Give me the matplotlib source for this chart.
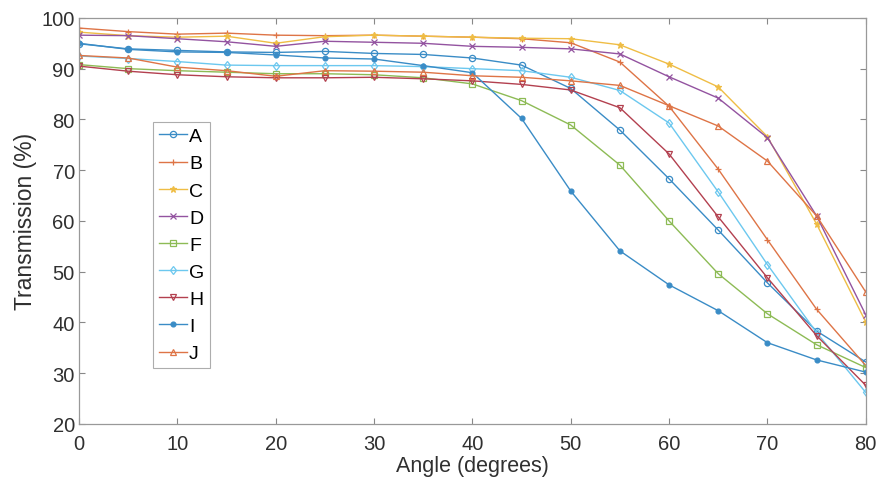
import matplotlib
matplotlib.use('Agg')
from matplotlib import pyplot as plt
import numpy as np

plt.rcParams['font.family'] = ['Liberation Sans', 'DejaVu Sans']

# angle of incidence (degrees)
angles = [0, 5, 10, 15, 20, 25, 30, 35, 40, 45, 50, 55, 60, 65, 70, 75, 80]

# transmission (%)
A = [94.9, 93.9, 93.6, 93.3, 93.2, 93.4, 93.0, 92.8, 92.1, 90.7, 86.1, 77.9, 68.3, 58.2, 47.8, 38.3, 32.2]
B = [98.0, 97.3, 96.8, 97.0, 96.6, 96.5, 96.6, 96.4, 96.2, 95.9, 95.1, 91.3, 82.6, 70.2, 56.3, 42.6, 31.5]
C = [97.2, 96.5, 96.2, 96.4, 95.0, 96.3, 96.6, 96.4, 96.2, 96.0, 95.9, 94.7, 90.9, 86.4, 76.6, 59.4, 40.1]
D = [96.6, 96.5, 95.9, 95.3, 94.4, 95.4, 95.2, 95.0, 94.4, 94.2, 93.9, 92.9, 88.4, 84.2, 76.4, 61.0, 41.5]
F = [90.8, 90.0, 89.6, 89.3, 89.0, 89.0, 88.8, 88.2, 87.0, 83.7, 78.9, 71.0, 60.0, 49.6, 41.7, 35.6, 31.1]
G = [92.5, 92.0, 91.4, 90.7, 90.6, 90.6, 90.6, 90.4, 90.0, 89.6, 88.3, 85.7, 79.3, 65.7, 51.4, 38.0, 26.2]
H = [90.5, 89.5, 88.8, 88.4, 88.2, 88.2, 88.3, 88.0, 87.6, 86.9, 85.8, 82.3, 73.2, 60.8, 48.8, 37.4, 27.6]
I = [95.0, 93.8, 93.3, 93.2, 92.7, 92.1, 91.9, 90.6, 89.2, 80.2, 65.9, 54.1, 47.4, 42.3, 36.0, 32.6, 30.2]
J = [92.6, 92.1, 90.3, 89.6, 88.5, 89.6, 89.5, 89.3, 88.6, 88.3, 87.6, 86.7, 82.7, 78.7, 71.8, 61.0, 46.0]

labels = ['A', 'B', 'C', 'D', 'F', 'G', 'H', 'I', 'J']
series = [A, B, C, D, F, G, H, I, J]

# matlab default colour order, slightly washed out like the scan
colors = ['#3a8cc6', '#de7446', '#efbd45', '#9353a0', '#8dbb55', '#6cc8ef', '#b3404f', '#3a8cc6', '#de7446']
markers = ['o', '+', '*', 'x', 's', 'd', 'v', '.', '^']

fig = plt.figure(figsize=(8.78, 4.85), dpi=100)
ax = fig.add_axes([0.090, 0.124, 0.896, 0.837])

for name, vals, col, mk in zip(labels, series, colors, markers):
    ms = 7 if mk == '.' else 4.5
    ax.plot(angles, vals, color=col, marker=mk, markersize=ms, linewidth=1.0,
            markerfacecolor='none' if mk not in ('.', '+', 'x', '*') else col,
            markeredgewidth=0.9, label=name)

ax.set_xlim(0, 80)
ax.set_ylim(20, 100)
ax.set_xticks(np.arange(0, 81, 10))
ax.set_yticks(np.arange(20, 101, 10))
ax.tick_params(direction='in', length=4, width=0.8, color='#888888',
               labelsize=14.5, labelcolor='#303030', pad=3,
               top=True, right=True)
ax.tick_params(axis='x', pad=7)
for s in ax.spines.values():
    s.set_color('#999999')
    s.set_linewidth(0.9)

ax.set_xlabel('Angle (degrees)', fontsize=15.5, color='#303030', labelpad=2)
ax.set_ylabel('Transmission (%)', fontsize=16.5, color='#303030', labelpad=3)

leg = ax.legend(loc='upper left', bbox_to_anchor=(0.094, 0.744), borderaxespad=0,
                fontsize=14, frameon=True, fancybox=False, handlelength=1.45,
                handletextpad=0.1, labelspacing=0.49, borderpad=0.3)
leg.get_frame().set_edgecolor('#999999')
leg.get_frame().set_linewidth(0.8)

fig.savefig('out.png', dpi=100)
